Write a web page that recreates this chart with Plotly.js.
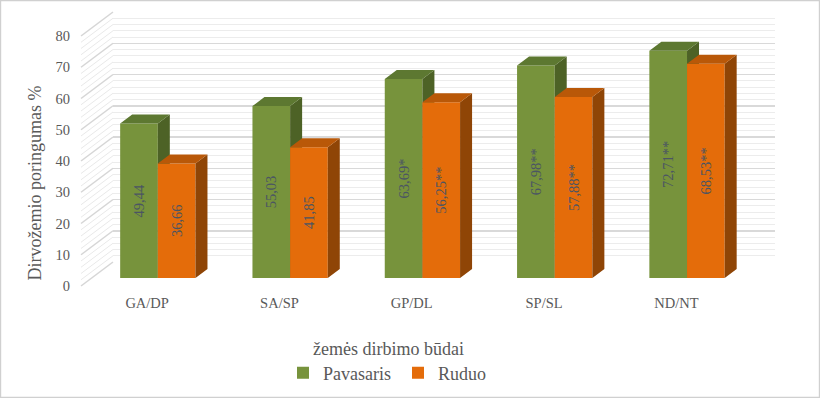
<!DOCTYPE html>
<html>
<head>
<meta charset="utf-8">
<script src="https://cdn.plot.ly/plotly-3.0.1.min.js"></script>
<style>html,body{margin:0;padding:0;background:#fff;}#chart{width:820px;height:398px;}</style>
</head>
<body>
<div id="chart"></div>
<script>
// ---- data ----
const categories = ['GA/DP', 'SA/SP', 'GP/DL', 'SP/SL', 'ND/NT'];
const spring = [49.44, 55.03, 63.69, 67.98, 72.71];
const autumn = [36.66, 41.85, 56.25, 57.88, 68.53];
const springSig = ['', '', '*', '**', '**'];
const autumnSig = ['', '', '**', '**', '**'];
const seriesNames = ['Pavasaris', 'Ruduo'];
const yMax = 80, yMajor = 10, yMinor = 2;

// ---- geometry (styling) ----
const W = 820, H = 398;
const frontLeftPx = 81, frontBasePx = 286;   // front plane (axis labels)
const catPx = 132.3, unitPx = 3.125;
const wallDX = 32, wallDY = 24;              // full depth of the 3D box in px
const barFrontDepth = 1 / 3, barDepth = 0.375;
const barFrac = 0.2846;                       // one bar width as fraction of category

const barLeftPx = frontLeftPx + wallDX * barFrontDepth;
const barBasePx = frontBasePx - wallDY * barFrontDepth;
const xMin = -0.5 - barLeftPx / catPx, xMax = xMin + W / catPx;
const yMin = -(H - barBasePx) / unitPx, yTop = barBasePx / unitPx;
const pxToX = p => p / catPx, pxToY = p => p / unitPx;

const dX = pxToX(wallDX * barDepth), dY = pxToY(wallDY * barDepth);
const idx = categories.map((_, i) => i);

const fmt = (v, s) => v.toFixed(2).replace('.', ',') + s;

function faces(vals, off) {
  const top = {x: [], y: []}, side = {x: [], y: []};
  vals.forEach((v, i) => {
    const x0 = i + off, x1 = x0 + barFrac;
    top.x.push(x0, x1, x1 + dX, x0 + dX, x0, null);
    top.y.push(v, v, v + dY, v + dY, v, null);
    side.x.push(x1, x1, x1 + dX, x1 + dX, x1, null);
    side.y.push(0, v, v + dY, dY, 0, null);
  });
  return {top, side};
}

const serif = '"Liberation Serif", "Times New Roman", serif';
const green = {front: '#77933c', top: '#5d7831', side: '#4d6226'};
const orange = {front: '#e46c0a', top: '#b95808', side: '#8f4506'};
const textFont = {family: serif, size: 14.5, color: '#4b5563'};

const gF = faces(spring, -barFrac), oF = faces(autumn, 0);

// side-wall diagonals
const diagMaj = {x: [], y: []}, diagMin = {x: [], y: []};
for (let v = 0; v <= yMax + 1e-9; v += yMinor) {
  const t = (Math.abs(v % yMajor) < 1e-9) ? diagMaj : diagMin;
  t.x.push(-0.5 - pxToX(wallDX * barFrontDepth), -0.5 + pxToX(wallDX * (1 - barFrontDepth)), null);
  t.y.push(v - pxToY(wallDY * barFrontDepth), v + pxToY(wallDY * (1 - barFrontDepth)), null);
}

const poly = (d, color, xa, ya) => ({type: 'scatter', x: d.x, y: d.y, xaxis: xa, yaxis: ya, mode: 'lines',
  fill: 'toself', fillcolor: color, line: {width: 0, color: color}, hoverinfo: 'skip', showlegend: false});

const traces = [
  {type: 'scatter', x: [], y: [], xaxis: 'x', yaxis: 'y', showlegend: false, hoverinfo: 'skip'},
  {type: 'scatter', x: [], y: [], xaxis: 'x4', yaxis: 'y4', showlegend: false, hoverinfo: 'skip'},
  {type: 'scatter', x: diagMin.x, y: diagMin.y, xaxis: 'x2', yaxis: 'y2', mode: 'lines',
   line: {color: '#e9e9e9', width: 1}, hoverinfo: 'skip', showlegend: false},
  {type: 'scatter', x: diagMaj.x, y: diagMaj.y, xaxis: 'x2', yaxis: 'y2', mode: 'lines',
   line: {color: '#d6d6d6', width: 1.5}, hoverinfo: 'skip', showlegend: false},
  {type: 'bar', name: seriesNames[0], x: idx, y: spring, width: barFrac, offset: -barFrac,
   xaxis: 'x2', yaxis: 'y2', marker: {color: green.front, line: {width: 0}},
   text: spring.map((v, i) => fmt(v, springSig[i])), textposition: 'inside', insidetextanchor: 'middle',
   textangle: -90, textfont: textFont, hoverinfo: 'skip'},
  poly(gF.side, green.side, 'x2', 'y2'),
  poly(gF.top, green.top, 'x2', 'y2'),
  {type: 'bar', name: seriesNames[1], x: idx, y: autumn, width: barFrac, offset: 0,
   xaxis: 'x3', yaxis: 'y3', marker: {color: orange.front, line: {width: 0}},
   text: autumn.map((v, i) => fmt(v, autumnSig[i])), textposition: 'inside', insidetextanchor: 'middle',
   textangle: -90, textfont: textFont, hoverinfo: 'skip'},
  poly(oF.side, orange.side, 'x3', 'y3'),
  poly(oF.top, orange.top, 'x3', 'y3')
];

const hidden = {visible: false, showgrid: false, zeroline: false, fixedrange: true};
const layout = {
  width: W, height: H,
  margin: {l: 0, r: 0, t: 0, b: 0, pad: 0},
  paper_bgcolor: '#ffffff', plot_bgcolor: 'rgba(0,0,0,0)',
  font: {family: serif, color: '#595959', size: 14.5},
  showlegend: true,
  legend: {orientation: 'h', x: 283 / W, xanchor: 'left', y: 1 - 373 / H, yanchor: 'middle',
    entrywidth: 70, itemwidth: 30,
    font: {family: serif, size: 18, color: '#595959'},
    bgcolor: 'rgba(0,0,0,0)', traceorder: 'normal'},
  // back wall
  xaxis: {domain: [(frontLeftPx + wallDX) / W, (frontLeftPx + wallDX + catPx * categories.length) / W],
    range: [0, 1], showgrid: false, zeroline: false, showticklabels: false, showline: false, anchor: 'y', fixedrange: true},
  yaxis: {domain: [1 - (frontBasePx - wallDY) / H, 1 - (frontBasePx - wallDY - yMax * unitPx) / H],
    range: [0, yMax], dtick: yMajor, showgrid: true, gridcolor: '#d9d9d9', gridwidth: 1.5,
    minor: {dtick: yMinor, showgrid: true, gridcolor: '#ececec', gridwidth: 1},
    zeroline: false, showticklabels: false, showline: false, anchor: 'x', fixedrange: true},
  // bar plane
  xaxis2: Object.assign({domain: [0, 1], range: [xMin, xMax], anchor: 'y2'}, hidden),
  yaxis2: Object.assign({domain: [0, 1], range: [yMin, yTop], anchor: 'x2'}, hidden),
  xaxis3: Object.assign({overlaying: 'x2', range: [xMin, xMax], anchor: 'y3'}, hidden),
  yaxis3: Object.assign({overlaying: 'y2', range: [yMin, yTop], anchor: 'x3'}, hidden),
  // front plane axes (labels)
  xaxis4: {domain: [frontLeftPx / W, (frontLeftPx + catPx * categories.length) / W], range: [-0.5, categories.length - 0.5],
    tickvals: idx, ticktext: categories, ticks: '', showgrid: false, zeroline: false, showline: false,
    anchor: 'y4', ticklabelstandoff: 6, tickfont: {family: serif, size: 14.5, color: '#595959'}, fixedrange: true},
  yaxis4: {domain: [1 - frontBasePx / H, 1 - (frontBasePx - yMax * unitPx) / H], range: [0, yMax], dtick: yMajor,
    ticks: '', showgrid: false, zeroline: false, showline: false, anchor: 'x4', ticklabelstandoff: 10,
    tickfont: {family: serif, size: 14.5, color: '#595959'}, fixedrange: true},
  annotations: [
    {text: 'Dirvožemio poringumas %', xref: 'paper', yref: 'paper', x: 34.5 / W, y: 1 - 183 / H,
     xanchor: 'center', yanchor: 'middle',
     textangle: -90, showarrow: false, font: {family: serif, size: 18, color: '#595959'}},
    {text: 'žemės dirbimo būdai', xref: 'paper', yref: 'paper', x: 388 / W, y: 1 - 349 / H,
     xanchor: 'center', yanchor: 'middle',
     showarrow: false, font: {family: serif, size: 18, color: '#595959'}}
  ],
  shapes: [
    {type: 'rect', xref: 'paper', yref: 'paper', x0: 0.6 / W, x1: 1 - 0.6 / W, y0: 0.6 / H, y1: 1 - 0.6 / H,
     line: {color: '#d0d0d0', width: 1.2}, fillcolor: 'rgba(0,0,0,0)', layer: 'above'}
  ]
};

Plotly.newPlot('chart', traces, layout, {displayModeBar: false, staticPlot: true});
</script>
</body>
</html>
